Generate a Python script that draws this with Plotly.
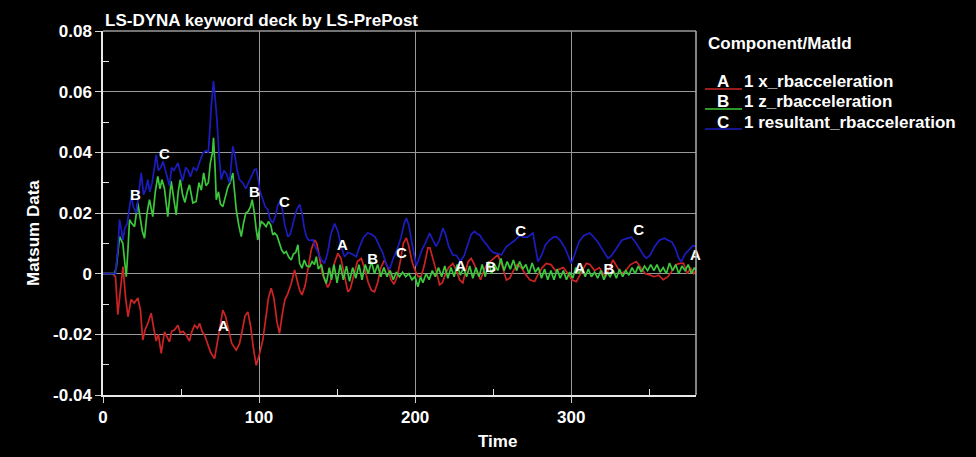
import plotly.graph_objects as go

# ---- data ----
t_a = [0, 6, 8, 9.5, 11, 12.8, 14.5, 16, 18, 20, 22.3, 24, 25.5, 27, 28.7, 30.9, 32.5, 34.1, 35.5, 37.3,
       39.4, 41, 42.6, 44, 45.8, 48, 49.5, 51.2, 53, 55.4, 57, 58.7, 60.5, 61.9, 63.5, 65.1, 67, 69, 71.5, 73.5,
       75.5, 76.8, 78.5, 80.5, 82.5, 85.4, 87.5, 89.5, 91, 92.8, 94.5, 96.5, 98.2, 100, 102.4, 104.5, 106, 107.8, 109.5, 111.5,
       113.1, 115, 116.5, 118.5, 120.5, 122.8, 124.5, 126, 127.5, 129.5, 131.5, 133.5, 135.6, 137, 138.5, 140.5, 142, 144, 145.5, 148,
       150.5, 152.5, 154.5, 156.9, 158.5, 161, 163, 165.5, 167.5, 170, 172, 174, 176, 178, 180.4, 182.5, 184.5, 186.5, 188.5, 190.5,
       192.5, 194.4, 196, 198, 200, 202, 204, 206, 208.2, 209.5, 211.5, 213.5, 215.7, 217.5, 219.5, 221.5, 224.2, 226.5, 228.5, 230.6,
       232, 234, 236, 238, 240, 242, 244, 246, 248, 250, 253, 255.5, 258.5, 260.6, 263, 265.5, 268, 270.5, 273.5, 276.6,
       279, 281.5, 284, 287, 290, 292.5, 295, 298, 300.5, 303.3, 306, 309.7, 312, 315, 318, 322, 326.8, 329.5, 332, 335,
       338, 341.8, 344.5, 347.5, 350.3, 353, 356, 359, 362, 365, 367.5, 369.6, 372, 374.5, 376.5, 378.5, 380]
a = [0, 0, -0.001, -0.0135, -0.006, 0.0023, -0.008, -0.0142, -0.0085, -0.0097, -0.008, -0.012, -0.0219, -0.0185, -0.0164, -0.013, -0.018, -0.0222, -0.02, -0.0263,
     -0.0192, -0.021, -0.0225, -0.019, -0.0186, -0.017, -0.0195, -0.019, -0.02, -0.0222, -0.019, -0.017, -0.018, -0.0164, -0.019, -0.0203, -0.023, -0.026, -0.028, -0.022,
     -0.015, -0.012, -0.014, -0.019, -0.023, -0.0252, -0.023, -0.018, -0.014, -0.0126, -0.017, -0.025, -0.0302, -0.027, -0.0219, -0.014, -0.008, -0.0048, -0.008, -0.016,
     -0.0197, -0.013, -0.0087, -0.0065, -0.0035, 0.0012, -0.002, -0.0055, -0.007, -0.004, 0.002, 0.008, 0.0111, 0.01, 0.006, 0.0, -0.002, -0.0045, -0.003, 0.003,
     0.0067, 0.005, 0.0, -0.006, -0.005, 0.0, 0.004, 0.005, 0.002, -0.003, -0.0055, -0.006, -0.003, 0.002, 0.0045, 0.002, -0.002, -0.0035, -0.001, 0.004,
     0.01, 0.0118, 0.009, 0.004, 0.001, -0.001, -0.0008, 0.003, 0.0085, 0.0085, 0.005, 0.001, -0.0037, -0.003, 0.0, 0.002, 0.0034, 0.001, -0.002, -0.003,
     0.0, 0.004, 0.005, 0.003, 0.0, -0.002, 0.001, 0.003, 0.004, 0.005, 0.0062, 0.003, -0.0021, -0.0015, 0.001, 0.003, 0.002, 0.0, -0.002, -0.0026,
     0.0, 0.002, 0.0034, 0.003, 0.001, 0.0015, 0.002, 0.0, -0.002, -0.0026, 0.0, 0.0034, 0.003, 0.001, 0.002, -0.001, 0.0045, 0.002, 0.0, 0.001,
     0.003, 0.004, 0.002, 0.0, -0.0004, -0.001, -0.0005, -0.002, -0.001, 0.001, 0.003, 0.0034, 0.0035, 0.0, 0.002, 0.0, 0.001]

t_b = [0, 7.4, 8.5, 10.6, 12.7, 14.9, 16, 17, 18.5, 20.2, 22.3, 24, 25.2, 26.6, 28.2, 29.8, 31.9, 33.5, 35.1, 36.5,
       37.8, 39.4, 41.5, 43.7, 45, 46.9, 48.2, 49.5, 51, 52.5, 54, 55.4, 57.6, 59.7, 61.5, 63, 64.5, 66, 67.5, 68.8,
       70.2, 70.8, 71.8, 72.6, 74, 75.2, 76.8, 78.5, 80, 81.5, 83.2, 84.3, 85.4, 87, 88.6, 90, 91.5, 93, 94.5, 95.6,
       97, 98.2, 99.2, 100.3, 101.4, 103, 104.5, 106, 107.5, 108.8, 110, 111.5, 113.1, 114.5, 116, 117.4, 119, 120.6, 122, 123.5,
       124.9, 126, 127.5, 129, 130.5, 132.4, 134, 135.5, 136.7, 138, 140, 141.5, 143.1, 145, 146.5, 148, 150,
       152, 154, 156, 158, 160, 162, 164, 166, 168, 170, 172, 174, 176, 178, 180, 182, 184, 186, 188, 190,
       192, 194, 196, 198, 200, 201.8, 203.5, 205, 207, 209, 211, 213, 215, 217, 219, 221, 223, 225, 227, 229,
       231, 233, 235, 237, 239, 241, 243, 245, 247, 249, 251, 253, 255, 257, 259, 261, 263, 265, 267, 269,
       271, 273, 275, 277, 279, 281, 283, 285, 287, 289, 291, 293, 295, 297, 299, 301, 303, 305, 307, 309,
       311, 313, 315, 317, 319, 321, 323, 325, 327, 329, 331, 333, 335, 337, 339, 341, 343, 345, 347, 349,
       351, 353, 355, 357, 359, 361, 363, 365, 367, 369, 371, 373, 375, 377, 379, 380]
b = [0, 0, 0.002, 0.0122, 0.01, -0.001, 0.008, 0.0178, 0.0165, 0.0155, 0.0233, 0.018, 0.014, 0.0117, 0.02, 0.0244, 0.0188, 0.027, 0.0321, 0.028,
     0.031, 0.028, 0.0188, 0.0305, 0.026, 0.0194, 0.027, 0.031, 0.026, 0.0235, 0.027, 0.0293, 0.0233, 0.0238, 0.03, 0.0275, 0.0332, 0.029, 0.03, 0.0365,
     0.04, 0.0448, 0.035, 0.0244, 0.027, 0.023, 0.0221, 0.026, 0.0285, 0.03, 0.0332, 0.027, 0.021, 0.016, 0.0122, 0.0165, 0.02, 0.0205, 0.022, 0.0244,
     0.02, 0.0144, 0.0111, 0.015, 0.0172, 0.0165, 0.0155, 0.0172, 0.016, 0.0128, 0.0134, 0.0125, 0.01, 0.0078, 0.0067, 0.0073, 0.0055, 0.0045, 0.0065, 0.007,
     0.0095, 0.0034, 0.0018, 0.0045, 0.0025, 0.0023, 0.004, 0.003, 0.0056, 0.0015, 0.003, -0.001, -0.0032, 0.002, -0.002, 0.003, -0.003,
     0.003, -0.002, 0.0025, -0.0025, 0.002, -0.0015, 0.003, -0.002, 0.003, 0.0, 0.004, 0.0, 0.003, -0.001, 0.002, -0.001, 0.001, -0.002, 0.0005, -0.001,
     0.0005, -0.001, 0.0, -0.002, -0.001, -0.0043, -0.001, -0.003, 0.0, -0.002, 0.001, -0.001, 0.002, -0.001, 0.0025, -0.0015, 0.002, -0.001, 0.003, -0.0005,
     0.002, -0.001, 0.0025, -0.0015, 0.002, -0.001, 0.003, -0.001, 0.004, 0.0, 0.003, 0.001, 0.005, 0.001, 0.004, 0.0015, 0.0045, 0.001, 0.004, 0.0015,
     0.003, 0.0, 0.0035, 0.0005, 0.002, -0.0015, 0.0015, -0.002, 0.001, -0.002, 0.0015, -0.0015, 0.001, -0.002, 0.0005, -0.0015, 0.002, 0.0, 0.002, -0.001,
     0.0015, -0.001, 0.0005, -0.0015, 0.001, -0.002, 0.0005, -0.001, 0.001, -0.0015, 0.0015, -0.001, 0.001, -0.0005, 0.002, 0.0, 0.0025, 0.0005, 0.0025, 0.001,
     0.003, 0.001, 0.003, 0.0005, 0.002, 0.0, 0.0035, 0.001, 0.003, 0.0, 0.0025, 0.001, 0.003, 0.0, 0.002, 0.001]

t_c = [0, 8, 9.5, 10.6, 11.6, 12.7, 14, 15.5, 17, 18.1, 19.5, 21.3, 23, 24.5, 26, 27.5, 28.7, 30, 31.5, 33,
       34.1, 35.5, 37, 38.5, 40, 42.6, 44, 45.5, 48, 49.5, 51, 53, 54.5, 56, 58, 60, 62, 64, 66, 67.5,
       69.4, 70.8, 72, 73, 74.5, 75.8, 77.5, 79, 81.1, 82.2, 83.2, 84.5, 86, 87.5, 89.6, 91.5, 93, 95, 97.1, 98.2,
       99.5, 100.3, 102, 104, 105.6, 107, 108.8, 110.5, 112, 113.5, 115, 116.5, 118.5, 120, 122, 124, 126, 127.5, 129, 130.3,
       132, 134.5, 136, 138, 140, 142, 144, 146, 148.4, 150.5, 152.5, 154.8, 157, 159.5, 162.3, 164.5, 167, 169.7, 172, 174.5,
       177, 179.4, 181.5, 183.7, 186, 188.5, 191, 193, 194.4, 196, 198, 200, 200.8, 202.5, 204.5, 206.5, 209.3, 211.5, 213.5, 215.5,
       217.8, 219.5, 221.5, 224.2, 226.5, 229, 231.5, 234, 236, 238.1, 240, 241.3, 243.5, 246, 248, 250, 252.5, 255.3, 258.5, 261.5,
       264, 267, 269.5, 272, 275.5, 277, 278.7, 281, 283.5, 286.2, 288.5, 290.5, 293, 296, 298.5, 300.1, 302, 305, 308, 311.9,
       314.5, 317, 320, 323.6, 326, 329, 332.5, 336.3, 338.6, 341, 344, 347.1, 348.2, 350.5, 353.5, 356.5, 359.9, 362, 364.5, 367,
       369, 370.6, 373, 375.5, 378, 380]
c = [0, 0, 0.008, 0.0178, 0.015, 0.0111, 0.015, 0.0165, 0.022, 0.0255, 0.022, 0.02, 0.027, 0.0332, 0.026, 0.028, 0.031, 0.027, 0.03, 0.036,
     0.0392, 0.034, 0.035, 0.037, 0.034, 0.029, 0.035, 0.034, 0.0365, 0.033, 0.0305, 0.035, 0.034, 0.032, 0.035, 0.034, 0.037, 0.0398, 0.0405, 0.04,
     0.0552, 0.0635, 0.057, 0.0508, 0.038, 0.031, 0.034, 0.033, 0.0299, 0.036, 0.042, 0.039, 0.034, 0.031, 0.0299, 0.028, 0.03, 0.032, 0.0343, 0.0345,
     0.031, 0.0277, 0.025, 0.022, 0.0211, 0.018, 0.0167, 0.019, 0.0225, 0.0238, 0.021, 0.016, 0.0122, 0.013, 0.017, 0.021, 0.0228, 0.02, 0.015, 0.0122,
     0.011, 0.0111, 0.009, 0.007, 0.0045, 0.0034, 0.007, 0.013, 0.0165, 0.014, 0.009, 0.0056, 0.007, 0.0065, 0.0056, 0.009, 0.012, 0.0134, 0.013, 0.012,
     0.009, 0.0067, 0.003, 0.0015, 0.005, 0.008, 0.012, 0.0165, 0.0183, 0.016, 0.01, 0.004, 0.0025, 0.005, 0.008, 0.01, 0.0134, 0.011, 0.009, 0.011,
     0.015, 0.013, 0.009, 0.0062, 0.006, 0.004, 0.006, 0.01, 0.013, 0.0139, 0.013, 0.0128, 0.011, 0.0095, 0.008, 0.007, 0.0065, 0.0062, 0.0089, 0.01,
     0.011, 0.0125, 0.012, 0.012, 0.0134, 0.009, 0.004, 0.006, 0.0095, 0.0111, 0.012, 0.0122, 0.011, 0.0085, 0.005, 0.0034, 0.006, 0.0105, 0.0125, 0.0134,
     0.012, 0.0105, 0.008, 0.0051, 0.006, 0.0085, 0.011, 0.0117, 0.012, 0.0105, 0.008, 0.0056, 0.0051, 0.006, 0.009, 0.011, 0.0117, 0.011, 0.0105, 0.008,
     0.005, 0.004, 0.0065, 0.008, 0.0092, 0.009]

# curve-label positions (letters drawn on the curves)
lab_a_t = [77.2, 153.5, 229.2, 305.4, 379.6]
lab_a_y = [-0.0177, 0.0091, 0.0022, 0.0016, 0.0059]
lab_b_t = [20.8, 97.1, 172.8, 248.5, 324.2]
lab_b_y = [0.0256, 0.0266, 0.0045, 0.0019, 0.0012]
lab_c_t = [39.4, 116.3, 191.3, 267.6, 343.3]
lab_c_y = [0.0389, 0.0233, 0.0065, 0.0138, 0.0141]

series_names = ["1 x_rbacceleration", "1 z_rbacceleration", "1 resultant_rbacceleration"]
series_letters = ["A", "B", "C"]
colors = ["#cc2424", "#3cc83c", "#1c1cc0"]

x_ticks = [0, 100, 200, 300]
y_ticks = [-0.04, -0.02, 0, 0.02, 0.04, 0.06, 0.08]
y_tick_text = ["-0.04", "-0.02", "0", "0.02", "0.04", "0.06", "0.08"]

FONT = "Liberation Sans, Arial, sans-serif"

fig = go.Figure()
for tt, yy, col in zip([t_a, t_b, t_c], [a, b, c], colors):
    fig.add_trace(go.Scatter(x=tt, y=yy, mode="lines", line=dict(color=col, width=1.7),
                             showlegend=False, hoverinfo="skip"))
for letter, lt, ly in zip(series_letters, [lab_a_t, lab_b_t, lab_c_t], [lab_a_y, lab_b_y, lab_c_y]):
    fig.add_trace(go.Scatter(x=lt, y=ly, mode="text", text=[letter] * len(lt),
                             textfont=dict(color="white", size=15, family=FONT, weight="bold"),
                             showlegend=False, hoverinfo="skip", cliponaxis=False))

fig.update_layout(
    width=976, height=457,
    paper_bgcolor="black", plot_bgcolor="black",
    margin=dict(l=103, r=280, t=31, b=62),
    font=dict(family=FONT, color="white", size=17, weight="bold"),
    xaxis=dict(range=[0, 380], tickvals=x_ticks, ticks="outside", ticklen=6, tickcolor="#d0d0d0",
               showgrid=True, gridcolor="#9a9a9a", gridwidth=1, zeroline=False,
               showline=True, linecolor="#e8e8e8", linewidth=1.5,
               tickfont=dict(size=17, color="white", family=FONT, weight="bold"),
               minor=dict(tickvals=[50, 150, 250, 350], ticks="inside", ticklen=6, tickcolor="#e0e0e0", showgrid=False)),
    yaxis=dict(range=[-0.04, 0.08], tickvals=y_ticks, ticktext=y_tick_text, ticks="outside", ticklen=6, tickcolor="#d0d0d0",
               showgrid=True, gridcolor="#9a9a9a", gridwidth=1, zeroline=False,
               showline=True, linecolor="#e8e8e8", linewidth=1.5,
               tickfont=dict(size=17, color="white", family=FONT, weight="bold"),
               minor=dict(tickvals=[-0.03, -0.01, 0.01, 0.03, 0.05, 0.07], ticks="inside", ticklen=6, tickcolor="#e0e0e0", showgrid=False)),
)

# top and right frame lines
fig.add_shape(type="line", xref="x domain", yref="y domain", x0=0, x1=1, y0=1, y1=1,
              line=dict(color="#9a9a9a", width=1.5))
fig.add_shape(type="line", xref="x domain", yref="y domain", x0=1, x1=1, y0=0, y1=1,
              line=dict(color="#b0b0b0", width=1.5))

# title and axis titles
fig.add_annotation(text="LS-DYNA keyword deck by LS-PrePost", xref="paper", yref="paper",
                   x=0, y=1, xanchor="left", yanchor="bottom", yshift=-1, showarrow=False,
                   font=dict(size=17, color="white", family=FONT, weight="bold"))
fig.add_annotation(text="Time", xref="paper", yref="paper", x=(497 - 103) / 593, y=0,
                   yshift=-46, xanchor="center", yanchor="middle", showarrow=False,
                   font=dict(size=17, color="white", family=FONT, weight="bold"))
fig.add_annotation(text="Matsum Data", xref="paper", yref="paper", x=0, xshift=-70,
                   y=(395 - 233) / 364, xanchor="center", yanchor="middle", textangle=-90, showarrow=False,
                   font=dict(size=17, color="white", family=FONT, weight="bold"))

# legend block
fig.add_annotation(text="Component/MatId", xref="paper", yref="paper", x=(706 - 103) / 593, y=(395 - 43) / 364,
                   xanchor="left", yanchor="middle", showarrow=False,
                   font=dict(size=17, color="white", family=FONT, weight="bold"))
for i, (letter, name, col) in enumerate(zip(series_letters, series_names, colors)):
    ypix = 82 + 20 * i
    fig.add_annotation(text=letter, xref="paper", yref="paper", x=(723 - 103) / 593, y=(395 - ypix) / 364,
                       xanchor="center", yanchor="middle", showarrow=False,
                       font=dict(size=17, color="white", family=FONT, weight="bold"))
    fig.add_annotation(text=name, xref="paper", yref="paper", x=(742 - 103) / 593, y=(395 - ypix) / 364,
                       xanchor="left", yanchor="middle", showarrow=False,
                       font=dict(size=17, color="white", family=FONT, weight="bold"))
    fig.add_shape(type="line", xref="paper", yref="paper",
                  x0=(705 - 103) / 593, x1=(742 - 103) / 593,
                  y0=(395 - (ypix + 7)) / 364, y1=(395 - (ypix + 7)) / 364,
                  line=dict(color=col, width=1.5))

fig.write_html("out.html")
